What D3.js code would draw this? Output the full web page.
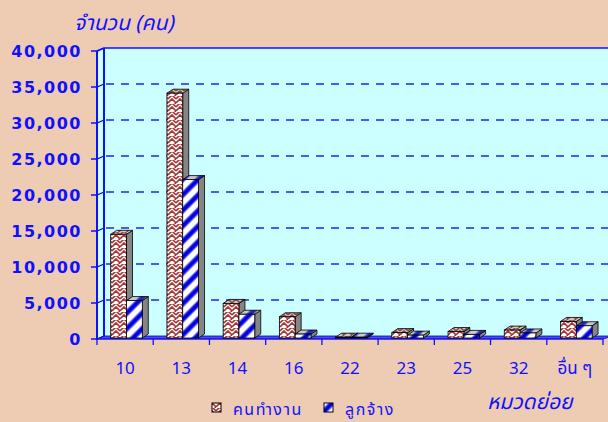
<!DOCTYPE html>
<html>
<head>
<meta charset="utf-8">
<script src="https://cdn.jsdelivr.net/npm/d3@7"></script>
<style>
  body { margin: 0; background: #eeccb3; }
  svg { display: block; }
  .thai { font-family: Tahoma, "Noto Sans Thai", "Noto Sans", sans-serif; }
</style>
</head>
<body>
<div id="vis"></div>
<script>
// data
const categories = ['10', '13', '14', '16', '22', '23', '25', '32', 'อื่น ๆ'];
const workers = [14400, 34000, 4800, 2950, 60, 750, 900, 1100, 2300];   // คนทำงาน
const employees = [5200, 22000, 3300, 550, 30, 400, 500, 700, 1700];   // ลูกจ้าง
const seriesNames = ['คนทำงาน', 'ลูกจ้าง'];
const yTicks = [0, 5000, 10000, 15000, 20000, 25000, 30000, 35000, 40000];

const width = 608, height = 422;
const blue = '#1010ff';
const wall = {dx: 7, dy: -3};      // depth of walls
const bar = {dx: 6, dy: -4};       // depth of bars

const x = d3.scaleBand().domain(categories).range([97, 603]);
const xs = d3.scaleBand().domain(seriesNames).range([13.7, 45.3]);
const y = d3.scaleLinear().domain([0, 40000]).range([339, 51]);
const yBar = d3.scaleLinear().domain([0, 40000]).range([338, 50]);

const svg = d3.select('#vis').append('svg').attr('width', width).attr('height', height);
const defs = svg.append('defs');

// red weave pattern
let pr = defs.append('pattern').attr('id', 'redPat').attr('patternUnits', 'userSpaceOnUse')
    .attr('width', 8).attr('height', 8);
pr.append('rect').attr('width', 8).attr('height', 8).attr('fill', '#fff');
pr.append('path').attr('d', 'M0,7 L4,3 L8,7 M0,3 L4,-1 L8,3 M-4,3 L0,-1 M4,11 L8,7')
    .attr('stroke', '#a83434').attr('stroke-width', 1.6).attr('fill', 'none');

// blue stripes
let pb = defs.append('pattern').attr('id', 'bluePat').attr('patternUnits', 'userSpaceOnUse')
    .attr('width', 11).attr('height', 11).attr('patternTransform', 'rotate(45)');
pb.append('rect').attr('width', 11).attr('height', 11).attr('fill', '#fff');
pb.append('rect').attr('x', 0).attr('width', 6).attr('height', 11).attr('fill', '#7a7aff');
pb.append('rect').attr('x', 1.2).attr('width', 3.6).attr('height', 11).attr('fill', '#0000e0');

const fills = {'คนทำงาน': 'url(#redPat)', 'ลูกจ้าง': 'url(#bluePat)'};

// back wall + side wall
const yTop = y(40000), yBottom = y(0);
svg.append('rect').attr('x', 97 + wall.dx).attr('y', yTop + wall.dy)
    .attr('width', width - 97).attr('height', yBottom - yTop).attr('fill', '#ccffff');
svg.append('polygon')
    .attr('points', [[97, yTop], [97 + wall.dx, yTop + wall.dy], [97 + wall.dx, yBottom + wall.dy], [97, yBottom]].join(' '))
    .attr('fill', '#ccffff');
svg.append('line').attr('x1', 97 + wall.dx).attr('x2', width).attr('y1', yTop + wall.dy).attr('y2', yTop + wall.dy)
    .attr('stroke', blue).attr('stroke-width', 1.5);
svg.append('line').attr('x1', 97).attr('x2', 97 + wall.dx).attr('y1', yTop).attr('y2', yTop + wall.dy)
    .attr('stroke', blue).attr('stroke-width', 1.5);

// gridlines
yTicks.filter(d => d > 0 && d < 40000).forEach(d => {
    svg.append('line').attr('x1', 97 + wall.dx + 2).attr('x2', width).attr('y1', y(d) + wall.dy).attr('y2', y(d) + wall.dy)
        .attr('stroke', '#2020ff').attr('stroke-width', 1.5).attr('stroke-dasharray', '8,7');
});
yTicks.forEach(d => {
    svg.append('polyline').attr('points', [[91, y(d)], [97, y(d)], [97 + wall.dx, y(d) + wall.dy]].join(' '))
        .attr('fill', 'none').attr('stroke', blue).attr('stroke-width', 1.3);
});
svg.append('line').attr('x1', 97 + wall.dx).attr('x2', 97 + wall.dx).attr('y1', yTop + wall.dy).attr('y2', yBottom + wall.dy)
    .attr('stroke', blue).attr('stroke-width', 2);
svg.append('line').attr('x1', 97).attr('x2', 97).attr('y1', yTop).attr('y2', yBottom + 1)
    .attr('stroke', blue).attr('stroke-width', 2);

// floor
svg.append('polygon')
    .attr('points', [[97, yBottom], [97 + wall.dx, yBottom + wall.dy], [width + 5, yBottom + wall.dy], [603, yBottom]].join(' '))
    .attr('fill', '#4a4aee').attr('stroke', '#0000cc').attr('stroke-width', 0.8);
svg.append('line').attr('x1', 97).attr('x2', 603).attr('y1', yBottom).attr('y2', yBottom)
    .attr('stroke', blue).attr('stroke-width', 1.2);

// x axis ticks
const xTickPos = categories.map(c => x(c)).concat([x.range()[1]]);
svg.selectAll('line.xtick').data(xTickPos).enter().append('line').attr('class', 'xtick')
    .attr('x1', d => d).attr('x2', d => d).attr('y1', yBottom).attr('y2', yBottom + 6)
    .attr('stroke', blue).attr('stroke-width', 1.3);

// bars
const rows = categories.map((c, i) => ({cat: c, values: [
    {name: seriesNames[0], v: workers[i]}, {name: seriesNames[1], v: employees[i]}]}));

const groups = svg.selectAll('g.cat').data(rows).enter().append('g').attr('class', 'cat');
groups.each(function (row) {
    const g = d3.select(this);
    row.values.forEach(s => {
        const x0 = x(row.cat) + xs(s.name), x1 = x0 + xs.bandwidth();
        const yb = yBar(0), yt = Math.min(yBar(s.v), yb - 0.8);
        // side face
        g.append('polygon')
            .attr('points', [[x1, yb], [x1 + bar.dx, yb + bar.dy], [x1 + bar.dx, yt + bar.dy], [x1, yt]].join(' '))
            .attr('fill', '#858585').attr('stroke', '#000').attr('stroke-width', 0.8);
        // top face
        const topPts = [[x0, yt], [x0 + bar.dx, yt + bar.dy], [x1 + bar.dx, yt + bar.dy], [x1, yt]].join(' ');
        g.append('polygon').attr('points', topPts).attr('fill', fills[s.name]);
        g.append('polygon').attr('points', topPts).attr('fill', '#666').attr('fill-opacity', 0.35)
            .attr('stroke', '#000').attr('stroke-width', 0.8);
        // front face
        g.append('rect').attr('x', x0).attr('y', yt).attr('width', x1 - x0).attr('height', yb - yt)
            .attr('fill', fills[s.name]).attr('stroke', '#000').attr('stroke-width', 0.8);
    });
});

// y labels
svg.selectAll('text.ylab').data(yTicks).enter().append('text').attr('class', 'ylab')
    .attr('x', 82).attr('y', d => y(d)).attr('dy', '0.36em')
    .attr('text-anchor', 'end')
    .style('font-family', '"DejaVu Sans", sans-serif').style('font-weight', 'bold')
    .style('font-size', '16px').style('letter-spacing', '1.5px')
    .attr('fill', blue).text(d => d3.format(',')(d));

// x labels
svg.selectAll('text.xlab').data(categories).enter().append('text').attr('class', 'xlab thai')
    .attr('x', d => x(d) + x.bandwidth() / 2).attr('y', 374)
    .attr('text-anchor', 'middle').style('font-size', '17px').attr('fill', blue).text(d => d);

// axis titles
svg.append('text').attr('class', 'thai').attr('x', 74).attr('y', 30)
    .style('font-size', '21px').style('font-style', 'italic').attr('fill', blue).text('จำนวน (คน)');
svg.append('text').attr('class', 'thai').attr('x', 487).attr('y', 409)
    .style('font-size', '21px').style('font-style', 'italic')
    .attr('fill', blue).text('หมวดย่อย');

// legend
const legendX = [212, 324];
seriesNames.forEach((s, i) => {
    svg.append('rect').attr('x', legendX[i]).attr('y', 403).attr('width', 9).attr('height', 9)
        .attr('fill', fills[s]).attr('stroke', '#000').attr('stroke-width', 1);
    svg.append('text').attr('class', 'thai').attr('x', legendX[i] + 21).attr('y', 415)
        .style('font-size', '16px').style('letter-spacing', '1.5px').attr('fill', blue).text(s);
});
</script>
</body>
</html>
